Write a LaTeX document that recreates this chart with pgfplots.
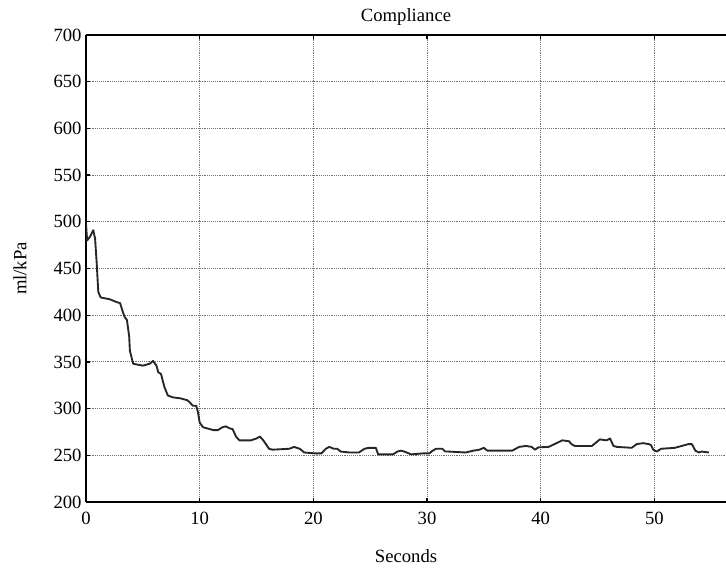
\documentclass[border=0pt]{standalone}
\usepackage{fontspec}
\setmainfont{Liberation Serif}
\usepackage{pgfplots}
\pgfplotsset{compat=1.18}
\begin{document}
\fontsize{14}{16}\selectfont
\begin{tikzpicture}
\begin{axis}[
  name=ax,
  scale only axis,
  width=480pt, height=350.25pt,
  xmin=0, xmax=56.3, ymin=200, ymax=700,
  xtick={0,10,20,30,40,50},
  ytick={200,250,300,350,400,450,500,550,600,650,700},
  axis y line*=left,
  tick align=inside,
  major tick length=3pt,
  xtick pos=both,
  grid=major,
  grid style={densely dotted, black!55, line width=0.6pt},
  axis line style={line width=1.3pt, black},
  tick style={line width=1pt, black},
  /pgf/number format/assume math mode=true,
  /pgf/number format/1000 sep={},
  ticklabel style={font=\fontsize{14}{16}\selectfont},
  xticklabel style={yshift=-2.5pt},
  yticklabel style={xshift=1.5pt},
  title={Compliance},
  title style={at={(axis description cs:0.5,1)}, anchor=base, yshift=3.75pt, font=\fontsize{14}{16}\selectfont},
  xlabel={Seconds},
  xlabel style={at={(axis description cs:0.5,0)}, anchor=base, yshift=-45.5pt, font=\fontsize{14}{16}\selectfont},
  ylabel={ml/kPa},
  ylabel style={at={(axis description cs:-0.1031,0.5)}, anchor=center, font=\fontsize{14}{16}\selectfont},
]
\addplot[black!85, line width=1.4pt, line join=round] coordinates {
(0,498) (0.1,480) (0.35,484) (0.64,491) (0.8,482) (0.94,456) (1.08,425)
(1.29,419) (2.1,417) (2.7,414) (3.0,413) (3.2,405) (3.4,398) (3.6,395)
(3.8,377) (3.86,362) (4.15,348) (5.0,346) (5.6,348) (5.9,351) (6.2,346)
(6.35,339) (6.6,337) (6.9,323) (7.2,314) (7.66,312) (8.3,311) (8.9,309)
(9.1,307) (9.4,303) (9.7,303) (9.85,296) (10.0,285) (10.3,280) (11.2,277)
(11.6,277) (12.0,280) (12.3,281) (12.6,279) (12.9,278) (13.2,270) (13.5,266)
(14.5,266) (15.0,268) (15.3,270) (15.6,266) (16.1,257) (16.4,256) (17.9,257)
(18.3,259) (18.8,257) (19.2,253) (20.2,252) (20.7,252) (21.1,257) (21.4,259)
(21.8,257) (22.1,257) (22.4,254) (23.2,253) (24.0,253) (24.5,257) (24.9,258)
(25.5,258) (25.7,251) (27.0,251) (27.4,254) (27.7,255) (28.0,254) (28.6,251)
(29.6,252) (30.2,252) (30.5,255) (30.8,257) (31.35,257) (31.6,254) (31.9,254)
(33.4,253) (34.1,255) (34.6,256) (35.0,258) (35.3,255) (35.7,255) (37.5,255)
(38.1,259) (38.7,260) (39.2,259) (39.5,256) (39.8,258.5) (40.7,259) (41.3,262.5)
(41.9,266) (42.5,265) (42.7,262) (43.0,260) (44.5,260) (44.9,264) (45.2,267)
(45.8,266) (46.1,268) (46.4,260) (46.7,259) (48.0,258) (48.45,262) (49.0,263)
(49.5,262) (49.7,261) (49.9,256) (50.2,254) (50.6,257) (51.8,258) (52.4,260)
(53.0,262) (53.3,262) (53.6,255) (53.9,253) (54.15,254) (54.8,253)
};
\end{axis}
\pgfresetboundingbox
\path[use as bounding box] ([xshift=-64.5pt,yshift=-49.5pt]ax.south west) rectangle ([yshift=26.25pt]ax.north east);
\end{tikzpicture}
\end{document}
